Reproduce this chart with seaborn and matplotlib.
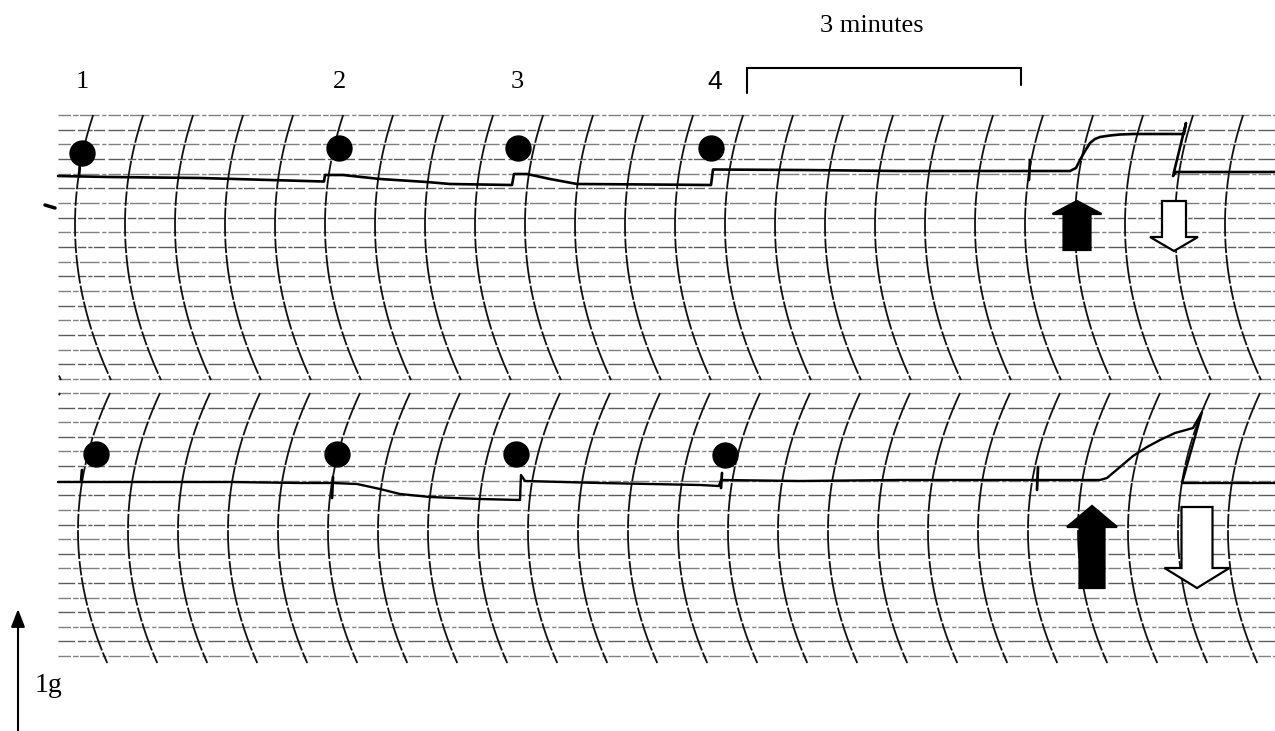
import numpy as np
import pandas as pd
import matplotlib
matplotlib.use("Agg")
import matplotlib.pyplot as plt
from matplotlib.patches import Polygon
import seaborn as sns

# ---------------- data (pixel units) ----------------
event_labels = ["1", "2", "3", "4"]
event_label_x = [82, 340, 517, 715]

top_dots_x = [82, 339, 518, 711]
top_dots_y = [153, 148, 148, 148]
bot_dots_x = [96, 337, 516, 725]
bot_dots_y = [454, 454, 454, 455]

top_trace_x = [58, 110, 200, 270, 324, 325, 343, 380, 427, 450, 512, 514, 527, 550,
               577, 650, 711, 713, 800, 900, 1028, 1070, 1076, 1080, 1085, 1090, 1095,
               1100, 1110, 1120, 1133, 1160, 1184, 1186, 1173, 1176, 1275]
top_trace_y = [176, 177, 178, 180, 181.5, 175, 175, 179, 182, 184, 185, 174, 174, 179,
               184, 184.5, 185, 169.5, 170, 171, 171, 171, 168, 160, 151, 143, 139,
               137, 135.5, 134.5, 134, 134, 134, 123, 176, 172, 172]

bot_trace_x = [58, 230, 300, 333, 357, 380, 400, 430, 480, 520, 521, 525, 600, 700,
               719, 721, 800, 900, 1038, 1100, 1107, 1120, 1133, 1147, 1160, 1175,
               1193, 1202, 1182, 1230, 1275]
bot_trace_y = [482, 482, 483, 483, 484, 489, 494, 497, 499, 500, 475, 481, 483, 485,
               486, 480, 481, 480, 480, 480, 478, 467, 456, 447, 440, 433, 428, 412,
               483, 483, 483]

# small pen event marks (x, y_start, y_end)
top_marks = [(80, 163, 176), (1030, 160, 180)]
bot_marks = [(82, 470, 482), (333, 477, 498), (722, 473, 488), (1038, 467, 490)]

# ---------------- figure ----------------
sns.set_theme(style="white")
plt.rcParams["font.family"] = ["Liberation Serif", "DejaVu Serif"]

fig = plt.figure(figsize=(12.75, 7.31), dpi=100)
ax = fig.add_axes([0, 0, 1, 1])
ax.set_xlim(0, 1275)
ax.set_ylim(731, 0)
ax.axis("off")

# chart-paper grid: horizontal rules
panels = [
    dict(y0=115, y1=379, yc=225, k=0.0015, xmin0=75, ytop=115, ybot=380),
    dict(y0=393, y1=656, yc=531, k=0.00168, xmin0=78, ytop=393, ybot=663),
]
dash_patterns = [(9, 1.5, 4, 1, 14, 2, 3, 1.5), (12, 2, 6, 1.5, 3, 1, 8, 2.5)]
for p in panels:
    ys = np.linspace(p["y0"], p["y1"], 19)
    for i, yy in enumerate(ys):
        ln, = ax.plot([58, 1275], [yy, yy], color="#5c5c5c" if i % 2 else "#808080",
                      lw=1.0, zorder=1)
        ln.set_dashes(dash_patterns[i % 2])
        ln.set_dash_capstyle("butt")
    # curved time lines
    yy = np.linspace(p["ytop"], p["ybot"], 120)
    for j in range(-1, 25):
        xm = p["xmin0"] + 50 * j
        xx = xm + p["k"] * (yy - p["yc"]) ** 2
        mask = (xx >= 58) & (xx <= 1275)
        if mask.sum() < 2:
            continue
        ln, = ax.plot(xx[mask], yy[mask], color="#111111", lw=1.3, zorder=2)
        ln.set_dashes((16, 1.2, 8, 1.0))

# traces
top_df = pd.DataFrame({"x": top_trace_x, "y": top_trace_y})
bot_df = pd.DataFrame({"x": bot_trace_x, "y": bot_trace_y})
sns.lineplot(data=top_df, x="x", y="y", sort=False, estimator=None, color="black",
             lw=1.9, ax=ax, zorder=5)
sns.lineplot(data=bot_df, x="x", y="y", sort=False, estimator=None, color="black",
             lw=1.7, ax=ax, zorder=5)
for (mx, ya, yb) in top_marks + bot_marks:
    ax.plot([mx, mx - 1], [ya, yb], color="black", lw=2.0, zorder=5)
ax.plot([45, 55], [205, 208], color="black", lw=2.5, zorder=5)

# dots
sns.scatterplot(x=top_dots_x, y=top_dots_y, s=360, color="black", linewidth=0,
                ax=ax, legend=False, zorder=6)
sns.scatterplot(x=bot_dots_x, y=bot_dots_y, s=360, color="black", linewidth=0,
                ax=ax, legend=False, zorder=6)

# arrows (stimulus on = solid up, off = open down)
def up_arrow(cx, tip, base, bottom, hw, sw, fc):
    pts = [(cx, tip), (cx + hw, base), (cx + sw, base), (cx + sw, bottom),
           (cx - sw, bottom), (cx - sw, base), (cx - hw, base)]
    ax.add_patch(Polygon(pts, closed=True, fc=fc, ec="black", lw=1.6, zorder=7))

def down_arrow(cx, top, base, tip, hw, sw, fc):
    pts = [(cx - sw, top), (cx + sw, top), (cx + sw, base), (cx + hw, base),
           (cx, tip), (cx - hw, base), (cx - sw, base)]
    ax.add_patch(Polygon(pts, closed=True, fc=fc, ec="black", lw=1.6, zorder=7))

up_arrow(1077, 201, 214, 250, 24.5, 13.5, "black")
down_arrow(1174, 201, 237, 251, 24, 12, "white")
up_arrow(1092, 506, 527, 588, 25, 12.5, "black")
down_arrow(1197, 507, 568, 588, 32.5, 15.5, "white")

# labels
for lab, lx in zip(event_labels, event_label_x):
    fam = ["Liberation Sans"] if lab == "4" else ["Liberation Serif"]
    ax.text(lx, 82, lab, fontsize=19, family=fam, ha="center", va="center",
            color="black", zorder=8)

ax.text(872, 26, "3 minutes", fontsize=19, ha="center", va="center", color="black")
ax.plot([747, 747, 1021, 1021], [93, 68, 68, 85], color="black", lw=1.5,
        solid_joinstyle="miter")

# 1g scale arrow
ax.annotate("", xy=(18, 609), xytext=(18, 731),
            arrowprops=dict(arrowstyle="-|>,head_length=0.9,head_width=0.35",
                            color="black", lw=1.5, shrinkA=0, shrinkB=0))
ax.text(35, 686, "1g", fontsize=20, ha="left", va="center", color="black")

fig.savefig("out.png", dpi=100)
